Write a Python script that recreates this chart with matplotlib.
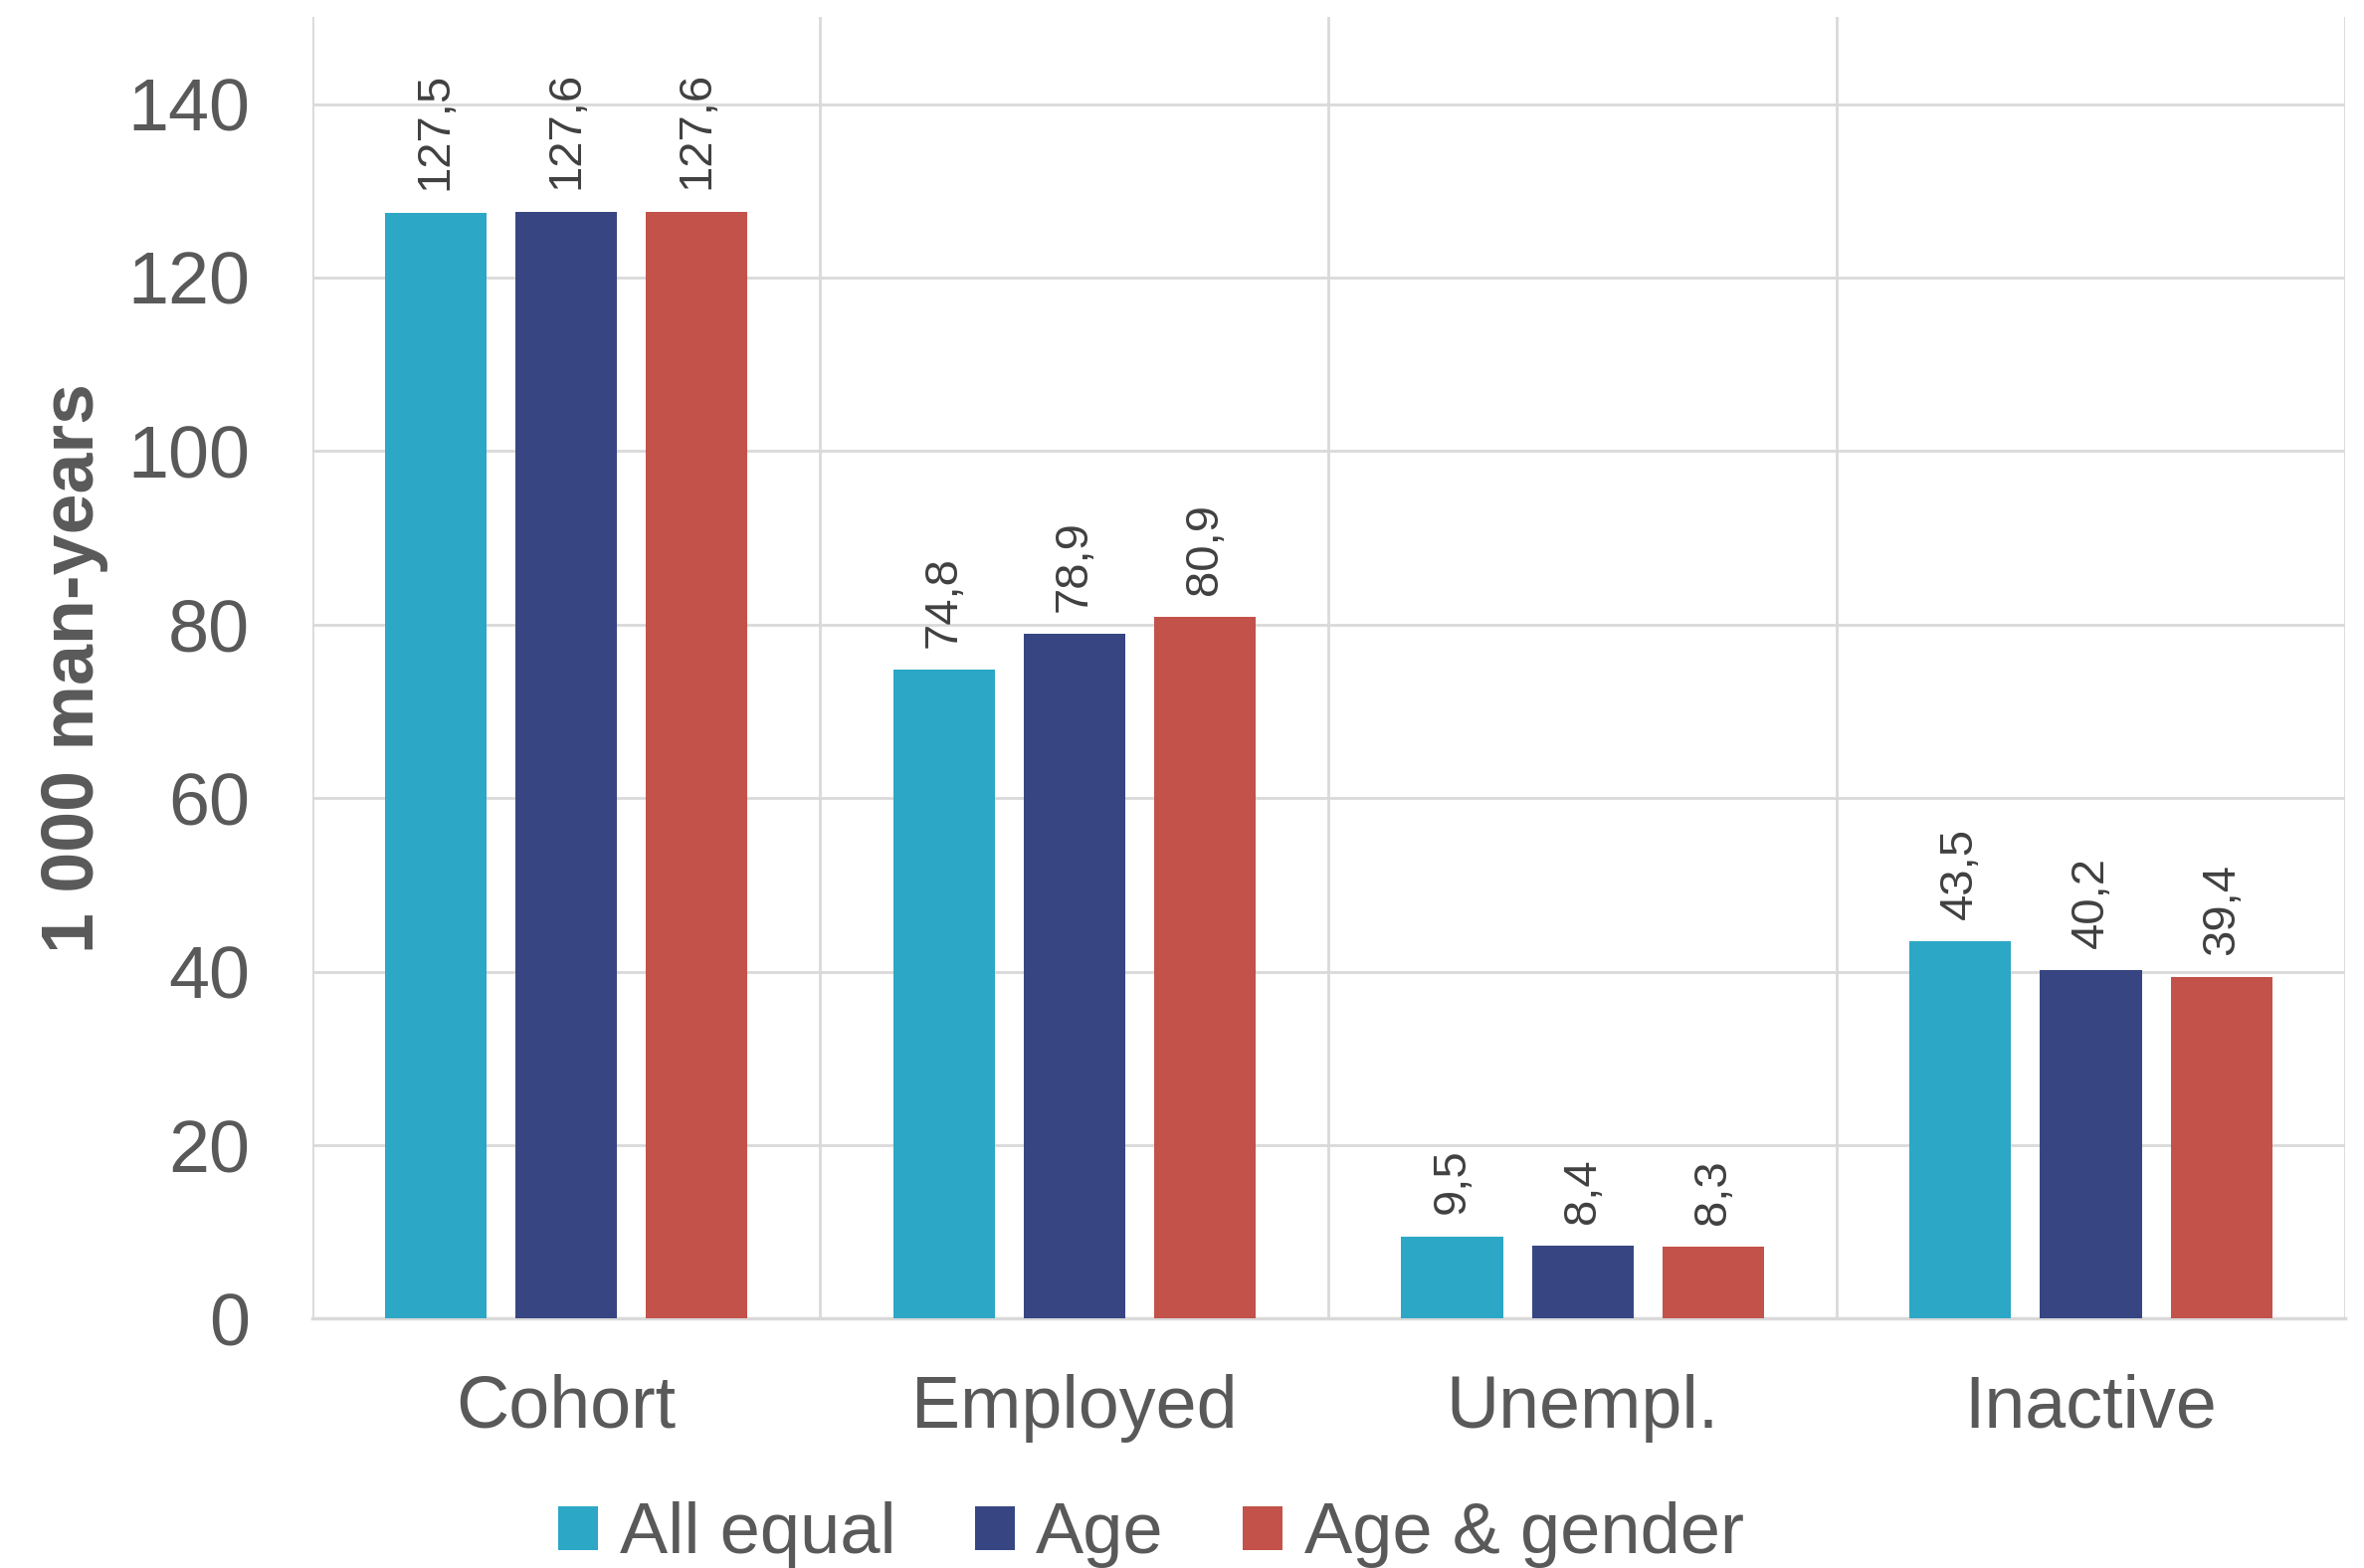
import numpy as np
import matplotlib
matplotlib.use("Agg")
import matplotlib.pyplot as plt

plt.rcParams['font.family'] = ['Liberation Sans', 'DejaVu Sans']

categories = ["Cohort", "Employed", "Unempl.", "Inactive"]
series_names = ["All equal", "Age", "Age & gender"]
all_equal = [127.5, 74.8, 9.5, 43.5]
age = [127.6, 78.9, 8.4, 40.2]
age_gender = [127.6, 80.9, 8.3, 39.4]
colors = ["#2ca7c6", "#374682", "#c3524a"]

text_grey = "#595959"
grid_grey = "#d9d9d9"

fig = plt.figure(figsize=(23.76, 15.76), dpi=100)
ax = fig.add_axes([0.132, 0.159, 0.860, 0.830])

x = np.arange(len(categories))
width = 0.2
offsets = [-0.257, 0.0, 0.257]

for vals, name, col, off in zip([all_equal, age, age_gender], series_names, colors, offsets):
    bars = ax.bar(x + off, vals, width, color=col, label=name, zorder=3)
    for b, v in zip(bars, vals):
        ax.annotate(f"{v:.1f}".replace(".", ","),
                    (b.get_x() + b.get_width() / 2, v),
                    xytext=(0, 16), textcoords="offset points",
                    rotation=90, ha="center", va="bottom",
                    fontsize=34, color="#404040")

ax.set_xlim(-0.5, len(categories) - 0.5)
ax.set_ylim(0, 150)
ax.set_yticks(np.arange(0, 141, 20))
ax.set_xticks(x)
ax.set_xticklabels(categories)
ax.set_xticks(np.arange(-0.5, len(categories)), minor=True)

ax.tick_params(axis="both", which="both", length=0, colors=text_grey)
ax.tick_params(axis="y", pad=45, labelsize=53)
ax.tick_params(axis="x", pad=40, labelsize=53)

ax.grid(axis="y", which="major", color=grid_grey, linewidth=2, zorder=0)
ax.grid(axis="x", which="minor", color=grid_grey, linewidth=2, zorder=0)

for side in ["top", "right", "left"]:
    ax.spines[side].set_visible(False)
ax.spines["bottom"].set_color(grid_grey)
ax.spines["bottom"].set_linewidth(2.5)

ax.set_ylabel("1 000 man-years", fontsize=53, fontweight="bold", color=text_grey)
ax.yaxis.set_label_coords(-0.1, 0.5)

handles, labels = ax.get_legend_handles_labels()
fig.legend(handles, labels, loc="center", bbox_to_anchor=(0.487, 0.021),
           ncol=3, frameon=False, fontsize=52, labelcolor=text_grey,
           handlelength=0.55, handleheight=0.55, handletextpad=0.3,
           columnspacing=1.1)

fig.savefig("out.png", dpi=100)
